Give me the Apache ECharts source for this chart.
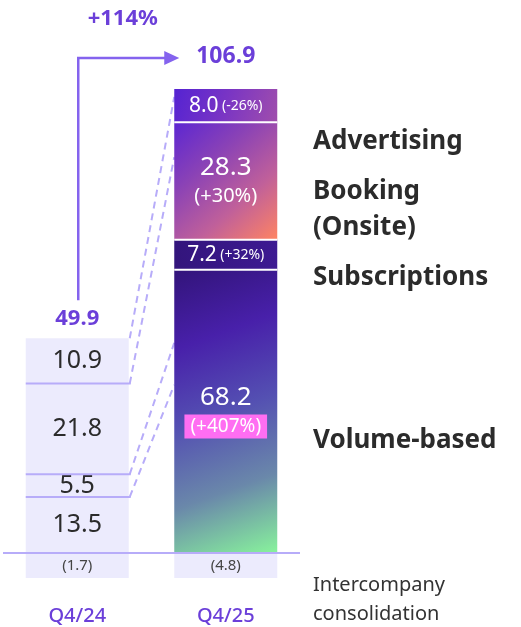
<!DOCTYPE html>
<html>
<head>
<meta charset="utf-8">
<script src="https://cdn.jsdelivr.net/npm/echarts@6/dist/echarts.min.js"></script>
<style>
  html, body { margin: 0; padding: 0; background: #fff; }
  #chart { width: 521px; height: 627px; }
</style>
</head>
<body>
<div id="chart"></div>
<script>
// data
const quarters = ['Q4/24', 'Q4/25']
const volumeBased = [13.5, 68.2]
const subscriptions = [5.5, 7.2]
const booking = [21.8, 28.3]
const advertising = [10.9, 8.0]
const consolidation = [-1.7, -4.8]
const totals = [49.9, 106.9]
const volumeChange = ['', '+407%']
const subsChange = ['', '+32%']
const bookingChange = ['', '+30%']
const adsChange = ['', '-26%']
const totalGrowth = '+114%'
// where the dashed guides meet the Q4/25 bar
const guideTargets = [109.8, 95.3, 50.6, 40.5]

const FONT = '"Noto Sans", sans-serif'
const PURPLE = '#6b3fd9'
const ARROW = '#8463ee'
const LAVENDER = '#ecebfd'
const LINE = '#b7acf9'
const BAR_W = 103
const Y_MIN = -6 // depth of the consolidation row under the baseline

const grad = (x2, y2, stops) => new echarts.graphic.LinearGradient(0, 0, x2, y2,
  stops.map((c, i) => ({ offset: i / (stops.length - 1), color: c })))

const fills = {
  volume: grad(1, 1, ['#32147a', '#4820aa', '#5450b2', '#6a88aa', '#88f39c']),
  subs: grad(1, 0, ['#33157c', '#3d1a92']),
  booking: grad(1, 1, ['#5c26d2', '#8a42b6', '#c0609a', '#ff8462']),
  ads: grad(1, 1, ['#5523d2', '#7a35c4', '#a04eac'])
}

const richW = {
  v: { color: '#fff', fontSize: 21, fontFamily: FONT },
  p: { color: '#fff', fontSize: 14, fontFamily: FONT },
  V: { color: '#fff', fontSize: 26, fontFamily: FONT, lineHeight: 30 },
  P: { color: '#fff', fontSize: 20, fontFamily: FONT, lineHeight: 27 },
  hl: { color: '#fff', fontSize: 19, fontFamily: FONT, backgroundColor: '#ff6ef2', padding: [3, 6, 2, 6], lineHeight: 27 }
}

function segData(values, changes, fill, fmt) {
  return values.map((v, i) => ({
    value: v,
    itemStyle: { color: i === 0 ? LAVENDER : fill },
    label: i === 0
      ? { formatter: v.toFixed(1), color: '#2b2b2b', fontSize: 25, fontFamily: FONT }
      : { formatter: fmt(v.toFixed(1), changes[i]), rich: richW }
  }))
}

const seg = (name, data) => ({
  name, type: 'bar', stack: 'q', barWidth: BAR_W, data,
  label: { show: true, position: 'inside' }, z: 3
})

// boundaries between stacked segments
const cum = (i) => {
  const a = volumeBased[i], b = a + subscriptions[i], c = b + booking[i]
  return [a, b, c, c + advertising[i]]
}
const b0 = cum(0), b1 = cum(1)
const sepData = [b0[0], b0[1], b0[2]].map(v => [0, v]).concat([b1[0], b1[1], b1[2]].map(v => [1, v]))
const guideFrom = [b0[3], b0[2], b0[1], b0[0]]

const chart = echarts.init(document.getElementById('chart'))
chart.setOption({
  animation: false,
  grid: { left: 3, right: 221, top: 13, bottom: 49 },
  xAxis: {
    type: 'category', data: quarters,
    axisLine: { show: false }, axisTick: { show: false },
    axisLabel: { color: PURPLE, fontSize: 20, fontWeight: 500, fontFamily: FONT, margin: 28 }
  },
  yAxis: { type: 'value', min: Y_MIN, max: 130, show: false, splitLine: { show: false } },
  series: [
    seg('Volume-based', segData(volumeBased, volumeChange, fills.volume, (v, c) => `{V|${v}}\n{hl|(${c})}`)),
    seg('Subscriptions', segData(subscriptions, subsChange, fills.subs, (v, c) => `{v|${v}} {p|(${c})}`)),
    seg('Booking (Onsite)', segData(booking, bookingChange, fills.booking, (v, c) => `{V|${v}}\n{P|(${c})}`)),
    seg('Advertising', segData(advertising, adsChange, fills.ads, (v, c) => `{v|${v}} {p|(${c})}`)),
    {
      name: 'Intercompany consolidation', type: 'bar', stack: 'q', barWidth: BAR_W,
      data: consolidation.map(() => Y_MIN),
      itemStyle: { color: LAVENDER },
      label: {
        show: true, position: 'inside', color: '#444', fontSize: 15, fontFamily: FONT,
        formatter: p => `(${Math.abs(consolidation[p.dataIndex])})`
      },
      markLine: {
        silent: true, symbol: 'none', label: { show: false },
        lineStyle: { color: LINE, width: 2, type: 'solid' },
        data: [{ yAxis: 0 }]
      }
    },
    {
      name: 'separators', type: 'custom', z: 5, encode: { x: 0, y: 1 },
      data: sepData,
      renderItem(params, api) {
        const p = api.coord([api.value(0), api.value(1)])
        const first = api.value(0) === 0
        return {
          type: 'line',
          shape: { x1: p[0] - BAR_W / 2, y1: p[1], x2: p[0] + BAR_W / 2 + (first ? 2 : 0), y2: p[1] },
          style: { stroke: first ? LINE : '#fff', lineWidth: 2 }
        }
      }
    },
    {
      name: 'guides', type: 'custom', z: 1, encode: { x: 0, y: [1, 2] },
      data: guideFrom.map((f, i) => [0, f, guideTargets[i]]),
      renderItem(params, api) {
        const a = api.coord([0, api.value(1)])
        const b = api.coord([1, api.value(2)])
        return {
          type: 'line',
          shape: { x1: a[0] + BAR_W / 2 + 1, y1: a[1], x2: b[0] - BAR_W / 2, y2: b[1] },
          style: { stroke: LINE, lineWidth: 2, lineDash: [7, 5] }
        }
      }
    },
    {
      name: 'growth', type: 'custom', z: 6, encode: { x: 0, y: [1, 2] },
      data: [[0, b0[3], b1[3]]],
      renderItem(params, api) {
        const a = api.coord([0, api.value(1)])
        const b = api.coord([1, api.value(2)])
        const xv = a[0] + 1, y0 = a[1] - 38, yh = b[1] - 31, xt = b[0] - BAR_W / 2 + 5
        const bold = (s) => `bold ${s}px ${FONT}`
        return {
          type: 'group',
          children: [
            { type: 'polyline', shape: { points: [[xv, y0], [xv, yh], [xt - 12, yh]] },
              style: { stroke: ARROW, lineWidth: 2.5, fill: null } },
            { type: 'polygon', shape: { points: [[xt - 15, yh - 7], [xt, yh], [xt - 15, yh + 7]] },
              style: { fill: ARROW } },
            { type: 'text', x: (xv + xt) / 2 - 6, y: yh - 39,
              style: { text: totalGrowth, fill: PURPLE, font: bold(22), align: 'center', verticalAlign: 'middle' } },
            { type: 'text', x: a[0], y: a[1] - 20,
              style: { text: totals[0].toFixed(1), fill: PURPLE, font: bold(22), align: 'center', verticalAlign: 'middle' } },
            { type: 'text', x: b[0], y: b[1] - 33,
              style: { text: totals[1].toFixed(1), fill: PURPLE, font: bold(23), align: 'center', verticalAlign: 'middle' } }
          ]
        }
      }
    }
  ],
  graphic: [
    { type: 'text', x: 313, y: 142, style: { text: 'Advertising', fill: '#2b2b2b', font: `bold 26px ${FONT}`, verticalAlign: 'middle' } },
    { type: 'text', x: 313, y: 210, style: { text: 'Booking\n(Onsite)', fill: '#2b2b2b', font: `bold 26px ${FONT}`, lineHeight: 36, verticalAlign: 'middle' } },
    { type: 'text', x: 313, y: 278, style: { text: 'Subscriptions', fill: '#2b2b2b', font: `bold 26px ${FONT}`, verticalAlign: 'middle' } },
    { type: 'text', x: 313, y: 441, style: { text: 'Volume-based', fill: '#2b2b2b', font: `bold 26px ${FONT}`, verticalAlign: 'middle' } },
    { type: 'text', x: 313, y: 600, style: { text: 'Intercompany\nconsolidation', fill: '#333', font: `20px ${FONT}`, lineHeight: 29, verticalAlign: 'middle' } }
  ]
})
window.addEventListener('resize', () => chart.resize())
</script>
</body>
</html>
